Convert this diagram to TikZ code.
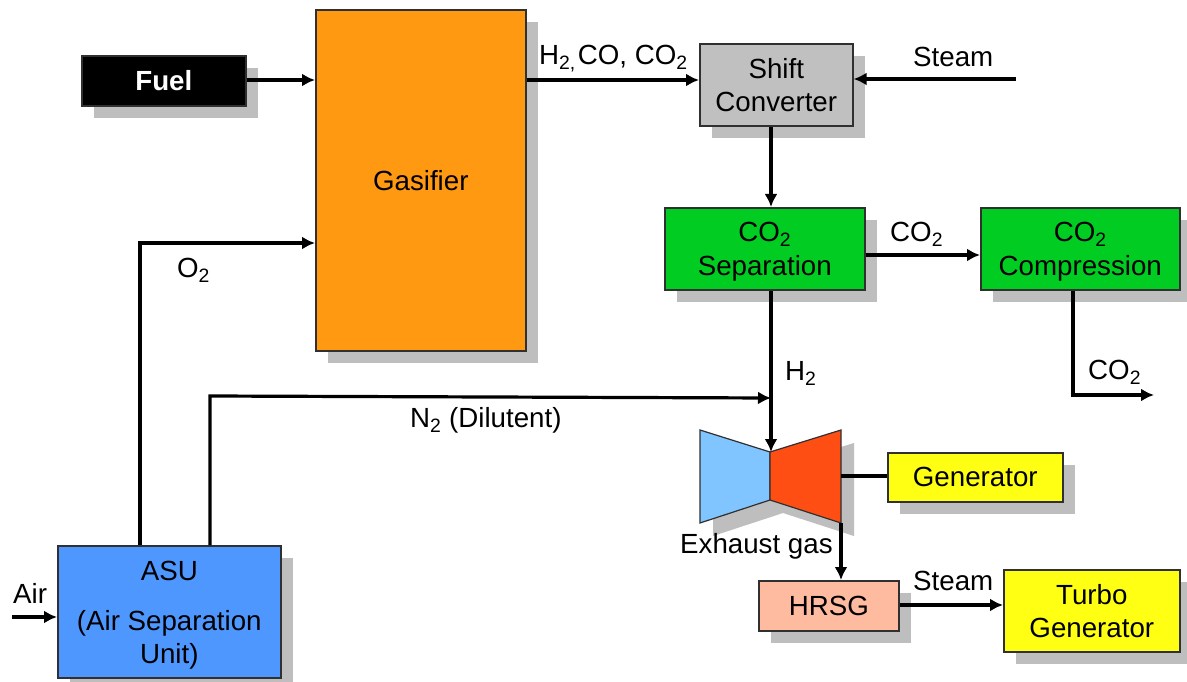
\documentclass[tikz,border=0pt]{standalone}
\usepackage{fontspec}
\setmainfont{Liberation Sans}
\usetikzlibrary{arrows.meta,calc}
\definecolor{shc}{HTML}{BEBEBE}
\definecolor{edgec}{HTML}{303030}
\definecolor{cfuel}{HTML}{000000}
\definecolor{cgas}{HTML}{FF9912}
\definecolor{cshift}{HTML}{C0C0C0}
\definecolor{cgreen}{HTML}{00CC22}
\definecolor{cyel}{HTML}{FFFF14}
\definecolor{chrsg}{HTML}{FFBBA0}
\definecolor{casu}{HTML}{4D97FF}
\definecolor{ctb}{HTML}{80C5FF}
\definecolor{ctr}{HTML}{FF4E14}
\tikzset{
 box/.style={draw=edgec,line width=1.6pt,inner sep=0pt,align=center,font=\fontsize{27.7}{33}\selectfont},
 flow/.style={draw=black,line width=3.2pt,-{Latex[length=13pt,width=13pt]}},
 plain/.style={draw=black,line width=3.2pt},
 lab/.style={font=\fontsize{27.7}{30}\selectfont,inner sep=0pt,text=black},
}
\newcommand{\bx}[8]{% name x0 y0 x1 y1 fill text textcolor
 \fill[shc] (#2+13,#3+13) rectangle (#4+13,#5+13);
 \node[box,fill=#6,minimum width={(#4-#2)*1pt},minimum height={(#5-#3)*1pt},anchor=north west,text=#8] (#1) at (#2,#3) {#7};
}
\newcommand{\two}{\textsubscript{2}}
\begin{document}
\begin{tikzpicture}[x=1pt,y=-1pt]
\useasboundingbox (0,0) rectangle (1187,682);
\fill[white] (0,0) rectangle (1187,682);
\bx{fuel}{81}{55}{245}{105}{cfuel}{\textbf{Fuel}}{white}
\bx{gas}{315}{9}{525}{350}{cgas}{Gasifier}{black}
\bx{shift}{699}{43}{852}{125}{cshift}{Shift\\Converter}{black}
\bx{sep}{664}{207}{864}{289}{cgreen}{\rule{0pt}{25pt}CO\two\\[1pt]Separation}{black}
\bx{comp}{980}{207}{1179}{289}{cgreen}{\rule{0pt}{25pt}CO\two\\[1pt]Compression}{black}
\bx{gen}{887}{452}{1062}{501}{cyel}{Generator}{black}
\bx{hrsg}{758}{580}{898}{630}{chrsg}{HRSG}{black}
\bx{turbo}{1003}{569}{1179}{651}{cyel}{Turbo\\Generator}{black}
\bx{asu}{57}{545}{280}{677}{casu}{\rule{0pt}{26pt}ASU\\[17pt](Air Separation\\Unit)}{black}
\fill[shc] (713,443)--(783,465)--(854,443)--(854,536)--(783,513)--(713,536)--cycle;
\draw[edgec,line width=1.2pt,fill=ctb] (770,452)--(700,430)--(700,523)--(770,500)--cycle;
\draw[edgec,line width=1.2pt,fill=ctr] (770,452)--(841,430)--(841,523)--(770,500)--cycle;
\coordinate (turbIn) at (771,452);
\coordinate (turbOut) at (841,523);
\coordinate (turbShaft) at (841,476);
\coordinate (nJoin) at (771,398);
\coordinate (steamIn) at (1016,79);
\coordinate (airIn) at (12,617);
\coordinate (co2out) at (1154,395);
\coordinate (o2bend) at (140,243);
\coordinate (n2bend) at (210,396);
\coordinate (co2bend) at (1073,395);
\draw[flow] (fuel.east|-0,80)--(gas.west|-0,80);
\draw[flow] (gas.east|-0,80)--(shift.west|-0,80);
\draw[flow] (steamIn)--(shift.east|-steamIn);
\draw[flow] (771,0|-shift.south)--(771,0|-sep.north);
\draw[flow] (sep.east|-0,255)--(comp.west|-0,255);
\draw[flow] (771,0|-sep.south)--(turbIn);
\draw[flow] (co2bend|-comp.south)--(co2bend)--(co2out);
\draw[flow] (o2bend|-asu.north)--(o2bend)--(gas.west|-o2bend);
\draw[flow] (n2bend|-asu.north)--(n2bend)--(nJoin);
\draw[flow] (airIn)--(asu.west|-airIn);
\draw[plain] (turbShaft)--(gen.west|-turbShaft);
\draw[flow] (turbOut)--(turbOut|-hrsg.north);
\draw[flow] (hrsg.east|-0,605)--(turbo.west|-0,605);
\node[lab,anchor=west] (l1) at (539,59) {H\textsubscript{2,}\hspace{2pt}CO, CO\two};
\node[lab,anchor=west] (l2) at (913,57) {Steam};
\node[lab,anchor=west] (l3) at (890,234) {CO\two};
\node[lab,anchor=west] (l4) at (177,270) {O\two};
\node[lab,anchor=west] (l5) at (785,373) {H\two};
\node[lab,anchor=west] (l6) at (1088,372) {CO\two};
\node[lab,anchor=west] (l7) at (410,420) {N\two\ (Dilutent)};
\node[lab,anchor=west] (l8) at (680,546) {Exhaust gas};
\node[lab,anchor=west] (l9) at (913,581) {Steam};
\node[lab,anchor=west] (l10) at (13,593) {Air};
\end{tikzpicture}
\end{document}
